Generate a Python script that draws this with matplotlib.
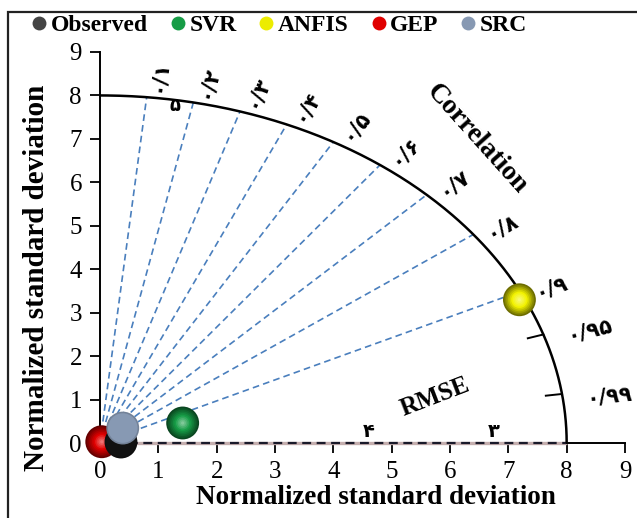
import numpy as np
import matplotlib
matplotlib.use("Agg")
import matplotlib.pyplot as plt
from matplotlib.lines import Line2D
from matplotlib.patches import Rectangle
import matplotlib.colors as mcolors

plt.rcParams['font.family'] = ['Liberation Serif', 'DejaVu Sans']

# ---------------- data ----------------
models = ['Observed', 'SVR', 'ANFIS', 'GEP', 'SRC']
norm_std = [0.36, 1.49, 7.91, 0.042, 0.52]
corr = [0.998, 0.951, 0.909, 0.72, 0.75]
colors = ['#111111', '#169c46', '#f2f200', '#e00000', '#8799b3']
draw_order = ['SVR', 'ANFIS', 'GEP', 'Observed', 'SRC']

corr_lines = [0.1, 0.2, 0.3, 0.4, 0.5, 0.6, 0.7, 0.8, 0.9]
corr_ticks = [0.95, 0.99]
corr_labels = ['۰/۱', '۰/۲', '۰/۳', '۰/۴', '۰/۵', '۰/۶', '۰/۷', '۰/۸', '۰/۹', '۰/۹۵', '۰/۹۹']
ref_radius = 8
rmse_labels = ['۴', '۳']
rmse_label_x = [4.6, 6.75]
xticks = list(range(0, 10))
yticks = list(range(0, 10))

# ---------------- figure ----------------
fig = plt.figure(figsize=(6.37, 5.18), dpi=100)
ax = fig.add_axes([100/637, 75/518, 525/637, 391/518])
ax.set_xlim(0, 9)
ax.set_ylim(0, 9)
ax.set_xticks(xticks)
ax.set_yticks(yticks)
for s in ['top', 'right', 'bottom']:
    ax.spines[s].set_visible(False)
ax.spines['left'].set_linewidth(1.4)
ax.tick_params(direction='out', length=7, width=1.3, labelsize=18, pad=6, colors='black')

# outer frame
fig.patches.append(Rectangle((8/637, -0.1), 1.2, 1 - 12/518 + 0.1, transform=fig.transFigure,
                             fill=False, edgecolor='#222222', lw=1.6))

# x-axis line: pinkish base with dashed overlay up to ref radius, solid beyond
ax.plot([0, ref_radius], [0, 0], color='#c4aeae', lw=2.4, clip_on=False, zorder=2, solid_capstyle='butt')
ax.plot([0, ref_radius], [0, 0], color='#1a1a2a', lw=1.6, ls=(0, (4, 2.5)), clip_on=False, zorder=2)
ax.plot([ref_radius, 9], [0, 0], color='black', lw=1.4, clip_on=False, zorder=2)

# reference arc
th = np.linspace(0, np.pi/2, 300)
ax.plot(ref_radius*np.cos(th), ref_radius*np.sin(th), color='black', lw=1.8, zorder=3)

# correlation dashed lines
for c in corr_lines:
    t = np.arccos(c)
    ax.plot([0, ref_radius*np.cos(t)], [0, ref_radius*np.sin(t)], color='#4a7fbd',
            lw=1.2, ls=(0, (4, 2.5)), zorder=2)
# inner ticks
for c in corr_ticks:
    t = np.arccos(c)
    ax.plot([7.72*np.cos(t), ref_radius*np.cos(t)], [7.72*np.sin(t), ref_radius*np.sin(t)],
            color='black', lw=1.4, zorder=3)

# correlation labels
sx = 525/9.0
sy = 391/9.0
for c, lab in zip(corr_lines + corr_ticks, corr_labels):
    t = np.arccos(c)
    r = 8.52 if c < 0.93 else 8.8
    tt = t - np.radians(1.0)
    rot = np.degrees(np.arctan2(np.sin(t)*sy, np.cos(t)*sx))
    ax.text(r*np.cos(tt), r*np.sin(tt), lab, rotation=rot, rotation_mode='anchor',
            ha='center', va='center', fontsize=15, fontweight='bold',
            family=['DejaVu Sans'], clip_on=False)
ax.text(1.28, 7.75, '۵', fontsize=13, fontweight='bold', family=['DejaVu Sans'],
        ha='center', va='center')

ax.text(6.45, 7.0, 'Correlation', rotation=-48, rotation_mode='anchor', ha='center', va='center',
        fontsize=20, fontweight='bold')
ax.text(5.74, 1.05, 'RMSE', rotation=21, rotation_mode='anchor', ha='center', va='center',
        fontsize=18, fontweight='bold')
for lab, xv in zip(rmse_labels, rmse_label_x):
    ax.text(xv, 0.05, lab, ha='center', va='bottom', fontsize=14, fontweight='bold',
            family=['DejaVu Sans'])

# balls
def ball(x, y, base, z, size=560, flat=False):
    b = np.array(mcolors.to_rgb(base))
    dark = b*0.45
    light = b + (1 - b)*0.45
    n = 10
    for i in range(n):
        k = i/(n - 1)
        if flat:
            col = b if i > 0 else b*0.85
        else:
            if k < 0.55:
                col = dark + (b - dark)*(k/0.55)
            else:
                col = b + (light - b)*((k - 0.55)/0.45)
        s = size*(1 - 0.9*k)**2
        ax.scatter([x], [y], s=s, color=[np.clip(col, 0, 1)], edgecolors='none',
                   zorder=z + i*0.01, clip_on=False)

for zi, name in enumerate(draw_order):
    i = models.index(name)
    t = np.arccos(corr[i])
    x = norm_std[i]*np.cos(t)
    y = norm_std[i]*np.sin(t)
    ball(x, y, colors[i], 5 + zi, flat=(name in ('SRC', 'Observed')))

# axis labels
fig.text(376/637, 1 - 497/518, 'Normalized standard deviation', ha='center', va='center',
         fontsize=19.5, fontweight='bold')
fig.text(37/637, 1 - 278/518, 'Normalized standard deviation', ha='center', va='center',
         rotation=90, fontsize=21, fontweight='bold')

# legend
leg_colors = ['#444444', '#169c46', '#ecec00', '#e00000', '#8799b3']
handles = [Line2D([], [], ls='none', marker='o', markersize=10, markerfacecolor=c,
                  markeredgecolor='none') for c in leg_colors]
fig.legend(handles, models, ncol=5, loc='center left', bbox_to_anchor=(17/637, 1 - 25/518),
           frameon=False, handletextpad=0.05, columnspacing=0.8, handlelength=0.9,
           prop={'family': 'Liberation Serif', 'weight': 'bold', 'size': 17}, borderpad=0)

fig.savefig('out.png', dpi=100)
